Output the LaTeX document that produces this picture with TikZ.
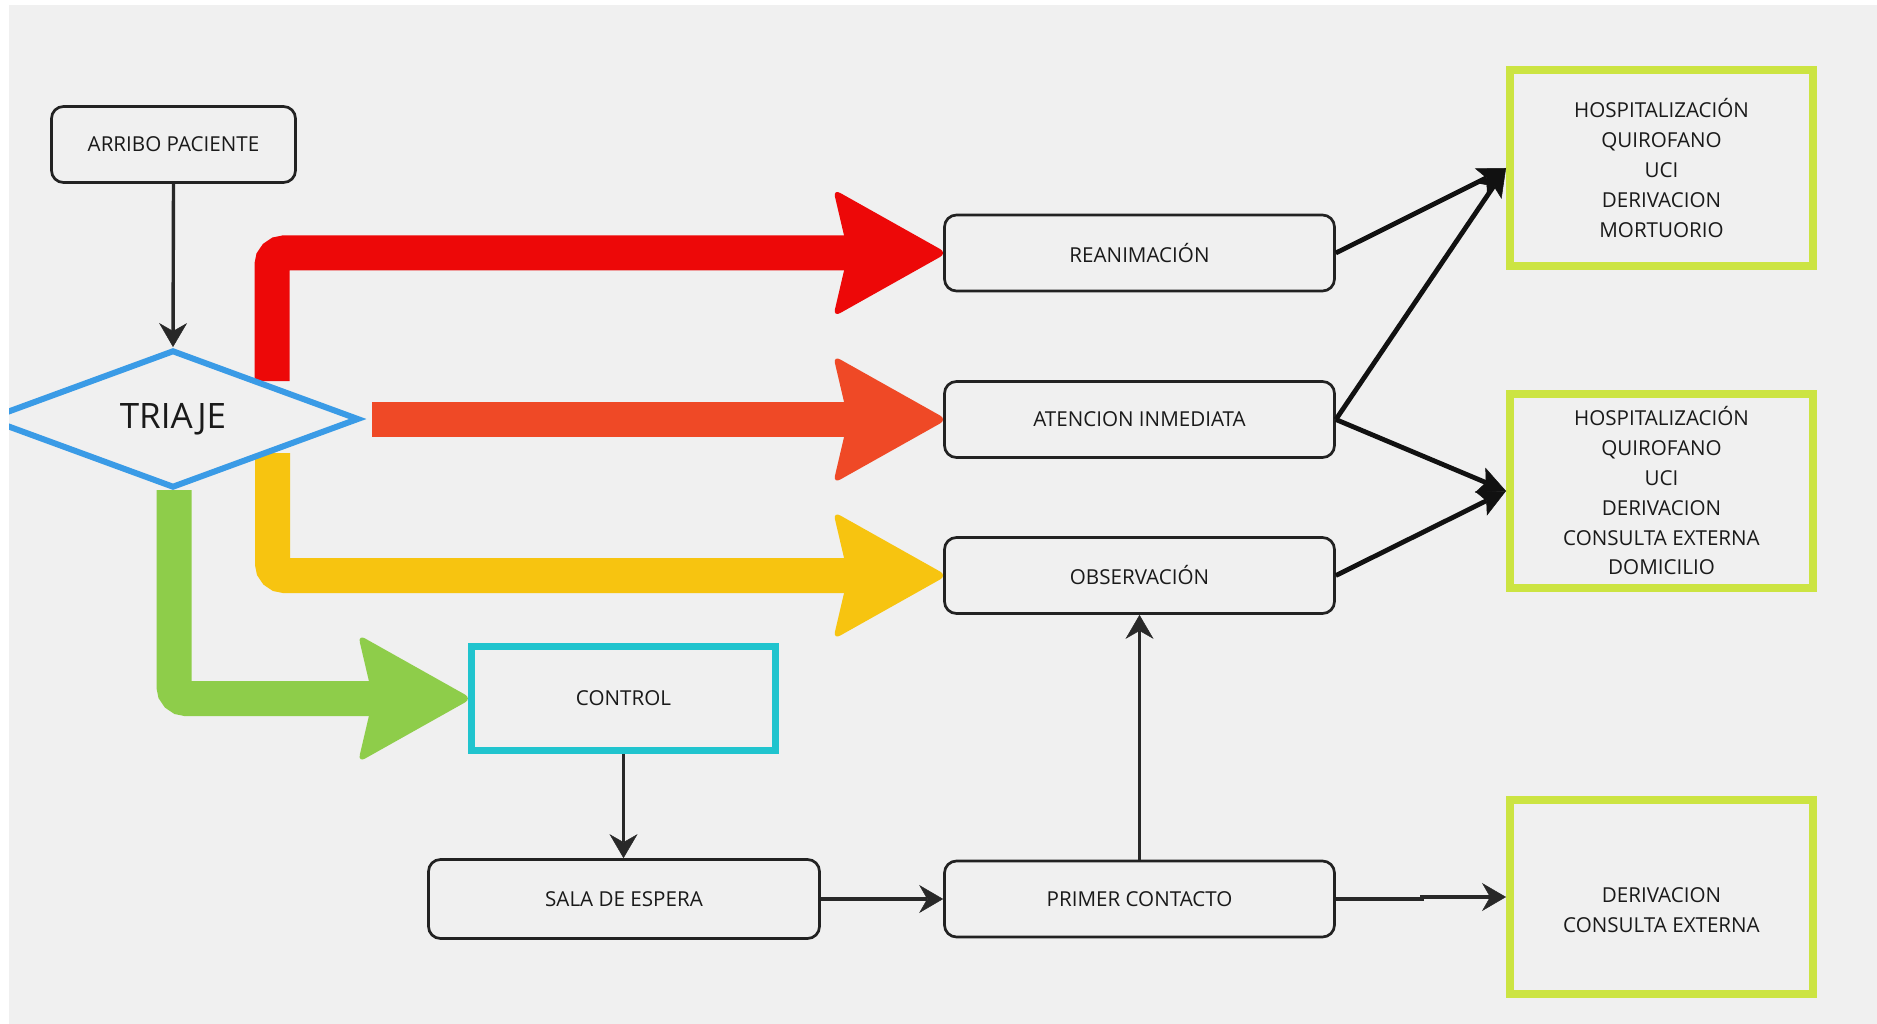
\documentclass[tikz,border=0pt]{standalone}
\usepackage{fontspec}
\setmainfont{Open Sans}
\usetikzlibrary{shapes.geometric, arrows.meta, calc}
\definecolor{bg}{RGB}{240,240,240}
\definecolor{boxc}{RGB}{34,34,34}
\definecolor{txt}{RGB}{26,26,26}
\definecolor{conc}{RGB}{40,40,40}
\definecolor{bigc}{RGB}{17,17,17}
\definecolor{triblue}{RGB}{58,155,230}
\definecolor{limec}{RGB}{204,228,66}
\definecolor{cyanc}{RGB}{32,196,206}
\definecolor{cred}{RGB}{237,8,8}
\definecolor{corange}{RGB}{239,73,38}
\definecolor{cyellow}{RGB}{247,196,16}
\definecolor{cgreen}{RGB}{142,205,74}
\newcommand\fathead[2]{\fill[#1, rounded corners=8pt] ($(#2)+(-110,-64)$) -- ($(#2)+(4,0)$) -- ($(#2)+(-110,64)$) -- ($(#2)+(-95,0)$) -- cycle;}
\begin{document}
\begin{tikzpicture}[x=1pt,y=-1pt,
  rbox/.style={draw=boxc, line width=2.7pt, rounded corners=12pt, fill=bg,
    minimum width=390pt, minimum height=76pt, inner sep=0pt,
    font=\fontsize{20.6}{29.8}\selectfont, text=txt},
  limebox/.style={draw=limec, line width=8pt, fill=bg, minimum width=303pt,
    minimum height=194pt, inner sep=0pt, align=center,
    font=\fontsize{20.6}{29.8}\selectfont, text=txt},
  lbl/.style={inner sep=0pt, align=center, font=\fontsize{20.6}{29.8}\selectfont, text=txt},
  tristyle/.style={diamond, draw=triblue, line width=6pt, fill=bg, minimum width=372pt,
    minimum height=128pt, inner sep=0pt, font=\fontsize{35}{40}\selectfont, text=txt},
  ctrlstyle/.style={draw=cyanc, line width=7pt, fill=bg, minimum width=304pt,
    minimum height=104pt, inner sep=0pt, font=\fontsize{20.6}{29.8}\selectfont, text=txt},
  conn/.style={draw=conc, line width=3.4pt, -{Stealth[length=24pt,width=28pt,inset=8pt,line width=0.5pt]}},
  bigarrow/.style={draw=bigc, line width=4.8pt, -{Stealth[length=28pt,width=27pt,inset=6pt,line width=0.5pt]}},
  fatband/.style={line width=35pt, rounded corners=12pt, line cap=butt}
]
\useasboundingbox (0,0) rectangle (1877,1024);
\fill[white] (0,0) rectangle (1877,1024);
\fill[bg] (9,5) rectangle (1877,1024);
\begin{scope}
\clip (9,5) rectangle (1877,1024);

% nodes
\node[rbox, minimum width=244pt] (arribo) at (173.5,144.5) {ARRIBO PACIENTE};
\node[rbox] (rean) at (1139.5,253) {REANIMACIÓN};
\node[rbox] (aten) at (1139.5,419.5) {ATENCION INMEDIATA};
\node[rbox] (obs) at (1139.5,575.5) {OBSERVACIÓN};
\node[rbox] (primer) at (1139.5,899) {PRIMER CONTACTO};
\node[rbox, minimum width=391pt, minimum height=79pt] (sala) at (624,899) {SALA DE ESPERA};
\node[ctrlstyle] (ctrl) at (623.5,698.5) {CONTROL};
\node[limebox, minimum height=196pt] (b1) at (1661.5,168) {HOSPITALIZACIÓN\\QUIROFANO\\UCI\\DERIVACION\\MORTUORIO};
\node[limebox] (b2) at (1661.5,491) {HOSPITALIZACIÓN\\QUIROFANO\\UCI\\DERIVACION\\CONSULTA EXTERNA\\DOMICILIO};
\node[limebox] (b3) at (1661.5,897) {};
\node[lbl] (b3t) at (1661.5,910) {DERIVACION\\CONSULTA EXTERNA};

% fat colored arrows
\coordinate (redstart) at (272,381);
\coordinate (orstart) at (372,419.5);
\coordinate (yelstart) at (272.5,453);
\coordinate (grnstart) at (174,490);
\draw[fatband, draw=cred] (redstart) |- ($(rean.west)+(-90,0)$);
\fathead{cred}{rean.west}
\draw[fatband, draw=corange] (orstart) -- ($(aten.west)+(-90,0)$);
\fathead{corange}{aten.west}
\draw[fatband, draw=cyellow] (yelstart) |- ($(obs.west)+(-90,0)$);
\fathead{cyellow}{obs.west}
\draw[fatband, draw=cgreen] (grnstart) |- ($(ctrl.west)+(-90,0)$);
\fathead{cgreen}{ctrl.west}

\node[tristyle] (triaje) at (173,419) {TRIAJE};

% connectors
\draw[conn] (arribo.south) -- (triaje.north);
\draw[conn] (ctrl.south) -- (ctrl.south |- sala.north);
\draw[conn] (sala.east) -- (primer.west);
\draw[conn] (primer.north) -- (obs.south);
\draw[conn] (primer.east) -- ($(primer.east)+(86,0)$) |- (b3.west);

\draw[bigarrow] (rean.east) -- (b1.west);
\draw[bigarrow] (aten.east) -- (b1.west);
\draw[bigarrow] (aten.east) -- (b2.west);
\draw[bigarrow] (obs.east) -- (b2.west);
\end{scope}
\end{tikzpicture}
\end{document}
